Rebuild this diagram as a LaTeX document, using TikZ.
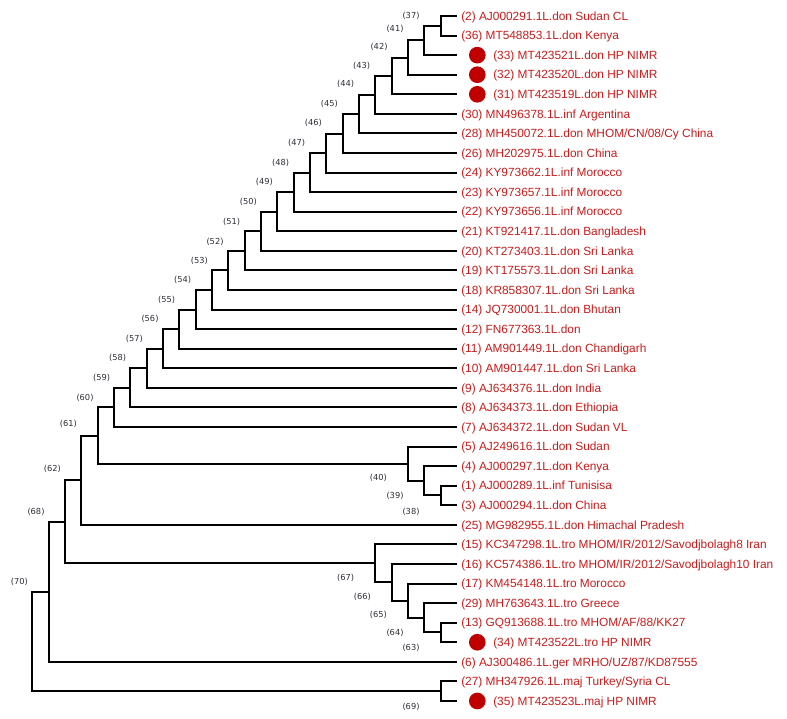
\documentclass[tikz,border=0pt]{standalone}
\usepackage{fontspec}
\setmainfont{Liberation Sans}
\newfontfamily\nodefont{DejaVu Sans}
\usetikzlibrary{calc}
\definecolor{leafred}{RGB}{200,28,28}
\definecolor{dotred}{RGB}{192,0,0}
\definecolor{nlab}{RGB}{45,45,55}
\newcommand\inode[4]{%
  \coordinate (m#1) at ($(#3)!.5!(#4)$);
  \coordinate (#1) at (m#1 -| #2,0);
  \draw[br] (#3) -| (#1) |- (#4);
}
\begin{document}
\begin{tikzpicture}[x=0.75pt,y=-0.75pt,
  br/.style={line width=1.5pt, black},
  lf/.style={font=\fontsize{8.9}{10}\selectfont, text=leafred, anchor=base west, inner sep=0pt},
  nl/.style={font=\nodefont\fontsize{6.2}{7}\selectfont, text=nlab, inner sep=0pt},
  dot/.style={circle, fill=dotred, draw=none, minimum size=12.5pt, inner sep=0pt}]
\useasboundingbox (0,0) rectangle (787,718);
\foreach \i in {0,...,35} \coordinate (L\i) at (457,{16+19.57*\i});

% leaf labels
\node[lf] (T0)  at ($(L0)+(4,4.2)$)  {(2) AJ000291.1L.don Sudan CL};
\node[lf] (T1)  at ($(L1)+(4,4.2)$)  {(36) MT548853.1L.don Kenya};
\node[dot] (D2) at ($(L2)+(20.3,0)$) {};
\node[lf] (T2)  at ($(L2)+(36,4.2)$) {(33) MT423521L.don HP NIMR};
\node[dot] (D3) at ($(L3)+(20.3,0)$) {};
\node[lf] (T3)  at ($(L3)+(36,4.2)$) {(32) MT423520L.don HP NIMR};
\node[dot] (D4) at ($(L4)+(20.3,0)$) {};
\node[lf] (T4)  at ($(L4)+(36,4.2)$) {(31) MT423519L.don HP NIMR};
\node[lf] (T5)  at ($(L5)+(4,4.2)$)  {(30) MN496378.1L.inf Argentina};
\node[lf] (T6)  at ($(L6)+(4,4.2)$)  {(28) MH450072.1L.don MHOM/CN/08/Cy China};
\node[lf] (T7)  at ($(L7)+(4,4.2)$)  {(26) MH202975.1L.don China};
\node[lf] (T8)  at ($(L8)+(4,4.2)$)  {(24) KY973662.1L.inf Morocco};
\node[lf] (T9)  at ($(L9)+(4,4.2)$)  {(23) KY973657.1L.inf Morocco};
\node[lf] (T10) at ($(L10)+(4,4.2)$) {(22) KY973656.1L.inf Morocco};
\node[lf] (T11) at ($(L11)+(4,4.2)$) {(21) KT921417.1L.don Bangladesh};
\node[lf] (T12) at ($(L12)+(4,4.2)$) {(20) KT273403.1L.don Sri Lanka};
\node[lf] (T13) at ($(L13)+(4,4.2)$) {(19) KT175573.1L.don Sri Lanka};
\node[lf] (T14) at ($(L14)+(4,4.2)$) {(18) KR858307.1L.don Sri Lanka};
\node[lf] (T15) at ($(L15)+(4,4.2)$) {(14) JQ730001.1L.don Bhutan};
\node[lf] (T16) at ($(L16)+(4,4.2)$) {(12) FN677363.1L.don};
\node[lf] (T17) at ($(L17)+(4,4.2)$) {(11) AM901449.1L.don Chandigarh};
\node[lf] (T18) at ($(L18)+(4,4.2)$) {(10) AM901447.1L.don Sri Lanka};
\node[lf] (T19) at ($(L19)+(4,4.2)$) {(9) AJ634376.1L.don India};
\node[lf] (T20) at ($(L20)+(4,4.2)$) {(8) AJ634373.1L.don Ethiopia};
\node[lf] (T21) at ($(L21)+(4,4.2)$) {(7) AJ634372.1L.don Sudan VL};
\node[lf] (T22) at ($(L22)+(4,4.2)$) {(5) AJ249616.1L.don Sudan};
\node[lf] (T23) at ($(L23)+(4,4.2)$) {(4) AJ000297.1L.don Kenya};
\node[lf] (T24) at ($(L24)+(4,4.2)$) {(1) AJ000289.1L.inf Tunisisa};
\node[lf] (T25) at ($(L25)+(4,4.2)$) {(3) AJ000294.1L.don China};
\node[lf] (T26) at ($(L26)+(4,4.2)$) {(25) MG982955.1L.don Himachal Pradesh};
\node[lf] (T27) at ($(L27)+(4,4.2)$) {(15) KC347298.1L.tro MHOM/IR/2012/Savodjbolagh8 Iran};
\node[lf] (T28) at ($(L28)+(4,4.2)$) {(16) KC574386.1L.tro MHOM/IR/2012/Savodjbolagh10 Iran};
\node[lf] (T29) at ($(L29)+(4,4.2)$) {(17) KM454148.1L.tro Morocco};
\node[lf] (T30) at ($(L30)+(4,4.2)$) {(29) MH763643.1L.tro Greece};
\node[lf] (T31) at ($(L31)+(4,4.2)$) {(13) GQ913688.1L.tro MHOM/AF/88/KK27};
\node[dot] (D32) at ($(L32)+(20.3,0)$) {};
\node[lf] (T32) at ($(L32)+(36,4.2)$) {(34) MT423522L.tro HP NIMR};
\node[lf] (T33) at ($(L33)+(4,4.2)$) {(6) AJ300486.1L.ger MRHO/UZ/87/KD87555};
\node[lf] (T34) at ($(L34)+(4,4.2)$) {(27) MH347926.1L.maj Turkey/Syria CL};
\node[dot] (D35) at ($(L35)+(20.3,0)$) {};
\node[lf] (T35) at ($(L35)+(36,4.2)$) {(35) MT423523L.maj HP NIMR};

% tree
\inode{N37}{440.67}{L0}{L1}
\inode{N41}{424.34}{N37}{L2}
\inode{N42}{408.01}{N41}{L3}
\inode{N43}{391.68}{N42}{L4}
\inode{N44}{375.35}{N43}{L5}
\inode{N45}{359.02}{N44}{L6}
\inode{N46}{342.69}{N45}{L7}
\inode{N47}{326.36}{N46}{L8}
\inode{N48}{310.03}{N47}{L9}
\inode{N49}{293.70}{N48}{L10}
\inode{N50}{277.37}{N49}{L11}
\inode{N51}{261.04}{N50}{L12}
\inode{N52}{244.71}{N51}{L13}
\inode{N53}{228.38}{N52}{L14}
\inode{N54}{212.05}{N53}{L15}
\inode{N55}{195.72}{N54}{L16}
\inode{N56}{179.39}{N55}{L17}
\inode{N57}{163.06}{N56}{L18}
\inode{N58}{146.73}{N57}{L19}
\inode{N59}{130.40}{N58}{L20}
\inode{N60}{114.07}{N59}{L21}
\inode{N38}{440.67}{L24}{L25}
\inode{N39}{424.34}{L23}{N38}
\inode{N40}{408.01}{L22}{N39}
\inode{N61}{97.74}{N60}{N40}
\inode{N62}{81.41}{N61}{L26}
\inode{N63}{440.67}{L31}{L32}
\inode{N64}{424.34}{L30}{N63}
\inode{N65}{408.01}{L29}{N64}
\inode{N66}{391.68}{L28}{N65}
\inode{N67}{375.35}{L27}{N66}
\inode{N68}{65.08}{N62}{N67}
\inode{N70}{48.75}{N68}{L33}
\inode{N69}{440.67}{L34}{L35}
\inode{NR}{32.42}{N70}{N69}

% internal node labels
\node[nl] (t37) at (411,16) {(37)};
\node[nl] (t41) at (395,29.3) {(41)};
\node[nl] (t42) at (379,47.3) {(42)};
\node[nl] (t43) at (361.7,66) {(43)};
\node[nl] (t44) at (345.7,84.3) {(44)};
\node[nl] (t45) at (329.3,103.7) {(45)};
\node[nl] (t46) at (313.3,123.3) {(46)};
\node[nl] (t47) at (296.7,142.7) {(47)};
\node[nl] (t48) at (280.7,162.7) {(48)};
\node[nl] (t49) at (264.3,182.3) {(49)};
\node[nl] (t50) at (248.3,202) {(50)};
\node[nl] (t51) at (231.7,221.7) {(51)};
\node[nl] (t52) at (215,241.7) {(52)};
\node[nl] (t53) at (199.3,261) {(53)};
\node[nl] (t54) at (182.7,280) {(54)};
\node[nl] (t55) at (166.7,300) {(55)};
\node[nl] (t56) at (150,319.3) {(56)};
\node[nl] (t57) at (134.3,339) {(57)};
\node[nl] (t58) at (117.7,358.3) {(58)};
\node[nl] (t59) at (101.7,378) {(59)};
\node[nl] (t60) at (85,397.7) {(60)};
\node[nl] (t61) at (68.3,424.3) {(61)};
\node[nl] (t62) at (52.3,469.3) {(62)};
\node[nl] (t68) at (36,511.7) {(68)};
\node[nl] (t70) at (19.3,582.3) {(70)};
\node[nl] (t40) at (378.3,478.3) {(40)};
\node[nl] (t39) at (395,496) {(39)};
\node[nl] (t38) at (411,511.7) {(38)};
\node[nl] (t67) at (345.7,578.3) {(67)};
\node[nl] (t66) at (362.3,597) {(66)};
\node[nl] (t65) at (378.3,615.3) {(65)};
\node[nl] (t64) at (395,633.3) {(64)};
\node[nl] (t63) at (411,648.3) {(63)};
\node[nl] (t69) at (411,707.3) {(69)};
\end{tikzpicture}
\end{document}
